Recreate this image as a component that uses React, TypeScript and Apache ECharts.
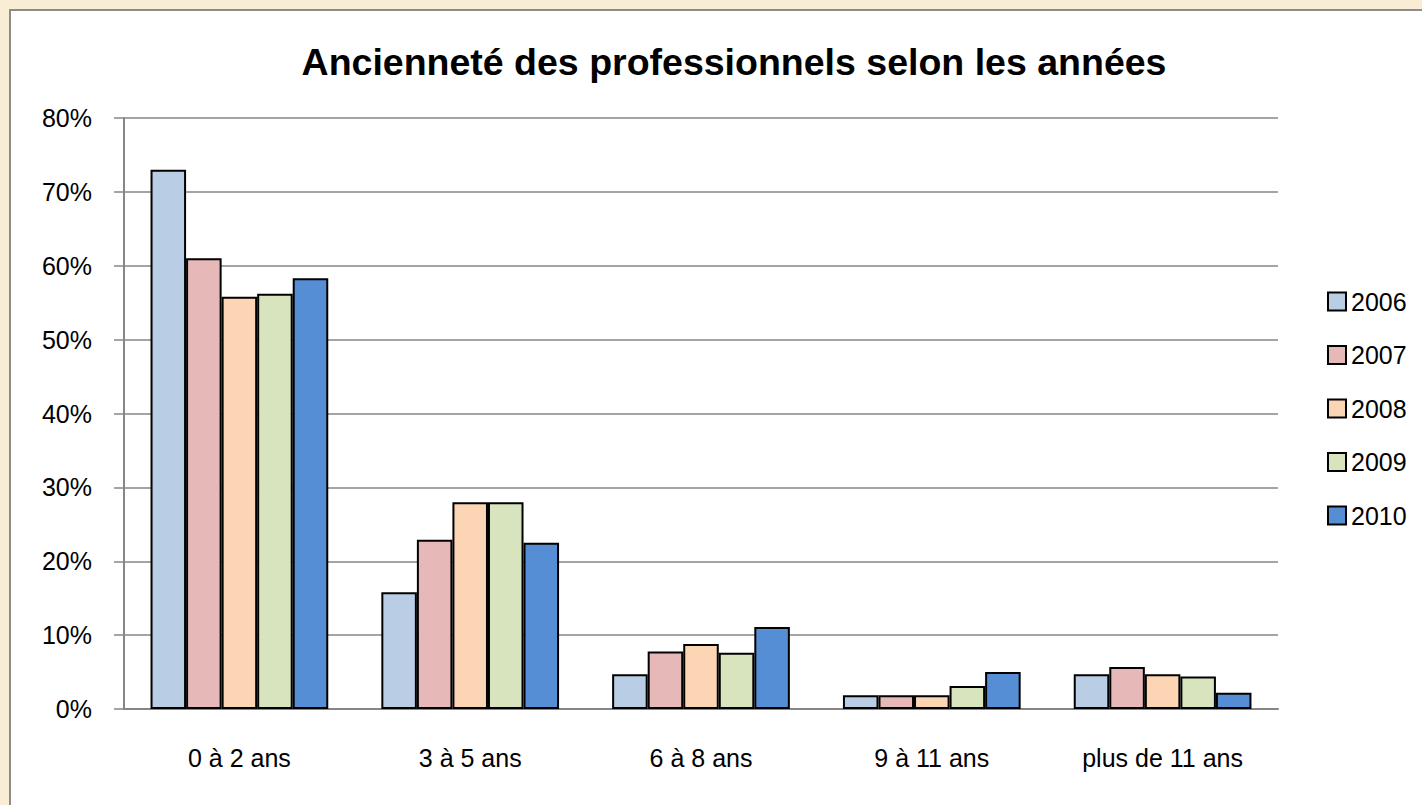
import React, { useEffect, useRef } from "react";
import * as echarts from "echarts";

const categories = ["0 à 2 ans", "3 à 5 ans", "6 à 8 ans", "9 à 11 ans", "plus de 11 ans"];
const years = ["2006", "2007", "2008", "2009", "2010"];
const values2006 = [73, 15.8, 4.7, 1.85, 4.7];
const values2007 = [61, 22.9, 7.8, 1.85, 5.7];
const values2008 = [55.8, 28, 8.8, 1.85, 4.7];
const values2009 = [56.2, 28, 7.6, 3.1, 4.4];
const values2010 = [58.3, 22.5, 11.1, 5.0, 2.2];
const seriesValues = [values2006, values2007, values2008, values2009, values2010];
const colors = ["#B9CDE5", "#E6B9B8", "#FCD5B5", "#D7E4BD", "#558ED5"];
const titleText = "Ancienneté des professionnels selon les années";

const FONT = '"Liberation Sans", Arial, sans-serif';

export default function App() {
  const ref = useRef<HTMLDivElement>(null);
  useEffect(() => {
    if (!ref.current) return;
    const chart = echarts.init(ref.current, null, { renderer: "svg" });
    chart.setOption({
      animation: false,
      backgroundColor: "#F9EDD6",
      graphic: [
        {
          type: "rect",
          shape: { x: 10, y: 10, width: 1430, height: 820 },
          style: { fill: "#FFFFFF", stroke: "#8C8C8C", lineWidth: 2 },
          z: -10,
        },
      ],
      title: {
        text: titleText,
        left: 729,
        top: 38,
        textAlign: "center",
        textStyle: {
          fontFamily: FONT,
          fontWeight: "bold",
          fontSize: 37.5,
          color: "#000",
        },
      },
      legend: {
        data: years,
        orient: "vertical",
        left: 1327,
        top: 289,
        padding: 0,
        itemWidth: 18,
        itemHeight: 18,
        itemGap: 28.5,
        icon: "rect",
        itemStyle: { borderColor: "#000", borderWidth: 2 },
        textStyle: { fontFamily: FONT, fontSize: 25, lineHeight: 25, color: "#000" },
      },
      grid: { left: 124, right: 144, top: 118, bottom: 96, containLabel: false },
      xAxis: {
        type: "category",
        data: categories,
        axisLine: { lineStyle: { color: "#868686", width: 2 } },
        axisTick: { length: 12, lineStyle: { color: "#868686", width: 2 } },
        axisLabel: { interval: 0, fontFamily: FONT, fontSize: 25, color: "#000", margin: 36 },
      },
      yAxis: {
        type: "value",
        min: 0,
        max: 80,
        interval: 10,
        axisLine: { show: true, lineStyle: { color: "#868686", width: 2 } },
        axisTick: { show: true, length: 10, lineStyle: { color: "#868686", width: 1.5 } },
        splitLine: { lineStyle: { color: "#868686", width: 1.5 } },
        axisLabel: { formatter: "{value}%", fontFamily: FONT, fontSize: 25, color: "#000", margin: 32 },
      },
      series: years.map((y, i) => ({
        name: y,
        type: "bar",
        data: seriesValues[i],
        barGap: "0%",
        barCategoryGap: "23%",
        itemStyle: { color: colors[i], borderColor: "#000", borderWidth: 2 },
      })),
    });
    return () => chart.dispose();
  }, []);
  return (
    <div style={{ position: "fixed", left: 0, top: 0, width: 1422, height: 805 }}>
      <div ref={ref} style={{ width: 1422, height: 805 }} />
    </div>
  );
}
